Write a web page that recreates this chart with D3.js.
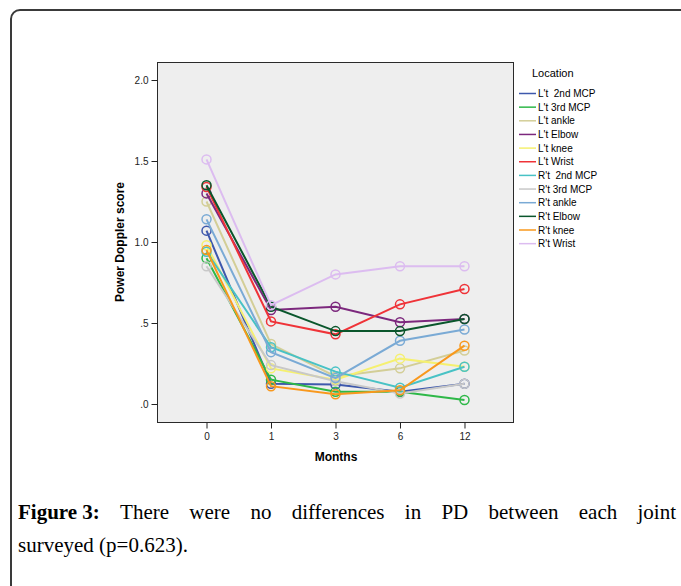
<!DOCTYPE html>
<html>
<head>
<meta charset="utf-8">
<script src="https://cdn.jsdelivr.net/npm/d3@7"></script>
<style>
  body { margin: 0; background: #fff; }
  svg { display: block; }
</style>
</head>
<body>
<div class="graphic"></div>
<script>
// data
const months = ["0", "1", "3", "6", "12"];
const locations = ["L't  2nd MCP", "L't 3rd MCP", "L't ankle", "L't Elbow", "L't knee", "L't Wrist",
                   "R't  2nd MCP", "R't 3rd MCP", "R't ankle", "R't Elbow", "R't knee", "R't Wrist"];
const colors = ["#3e58ac", "#2eb848", "#d3ce97", "#7c287d", "#f5f070", "#ef3338",
                "#48c2c5", "#c8c8c8", "#7aaad5", "#0a562c", "#f8981d", "#dcbcf0"];

const ltMcp2   = [1.07, 0.125, 0.12, 0.075, 0.125];
const ltMcp3   = [0.90, 0.15, 0.075, 0.075, 0.025];
const ltAnkle  = [1.25, 0.37, 0.17, 0.22, 0.33];
const ltElbow  = [1.30, 0.58, 0.60, 0.505, 0.525];
const ltKnee   = [0.98, 0.22, 0.15, 0.28, 0.23];
const ltWrist  = [1.34, 0.51, 0.43, 0.615, 0.71];
const rtMcp2   = [0.94, 0.35, 0.20, 0.10, 0.23];
const rtMcp3   = [0.85, 0.24, 0.14, 0.065, 0.125];
const rtAnkle  = [1.14, 0.32, 0.16, 0.39, 0.46];
const rtElbow  = [1.35, 0.60, 0.45, 0.45, 0.525];
const rtKnee   = [0.95, 0.11, 0.06, 0.085, 0.36];
const rtWrist  = [1.51, 0.61, 0.80, 0.85, 0.85];

const yTicks = [0, 0.5, 1.0, 1.5, 2.0];

const seriesValues = [ltMcp2, ltMcp3, ltAnkle, ltElbow, ltKnee, ltWrist,
                      rtMcp2, rtMcp3, rtAnkle, rtElbow, rtKnee, rtWrist];
const series = locations.map((name, i) => ({
  name: name,
  color: colors[i],
  points: seriesValues[i].map((v, j) => ({ month: months[j], value: v }))
}));

let svg = d3.select(".graphic")
            .append("svg")
            .attr("width", 681)
            .attr("height", 586);

// card border
svg.append("rect")
   .attr("x", 11).attr("y", 10)
   .attr("width", 700).attr("height", 620)
   .attr("rx", 9)
   .attr("fill", "none")
   .attr("stroke", "#3a3a3a")
   .attr("stroke-width", 2);

let frame = { left: 157.5, top: 62.5, right: 513.5, bottom: 422.5 };

let x = d3.scalePoint()
          .domain(months)
          .range([frame.left, frame.right])
          .padding(0.76);
let y = d3.scaleLinear()
          .domain([0, 2])
          .range([404, 80]);

svg.append("rect")
   .attr("x", frame.left).attr("y", frame.top)
   .attr("width", frame.right - frame.left)
   .attr("height", frame.bottom - frame.top)
   .attr("fill", "#eeeeee")
   .attr("stroke", "#2a2a2a")
   .attr("stroke-width", 1);

let yAxis = d3.axisLeft(y)
              .tickValues(yTicks)
              .tickSize(6)
              .tickFormat(d => d3.format(".1f")(d).replace(/^0/, ""));
let gy = svg.append("g")
            .attr("transform", `translate(${frame.left},0)`)
            .call(yAxis);
gy.select(".domain").remove();

let xAxis = d3.axisBottom(x).tickSize(6).tickPadding(4);
let gx = svg.append("g")
            .attr("transform", `translate(0,${frame.bottom})`)
            .call(xAxis);
gx.select(".domain").remove();

svg.selectAll(".tick text")
   .attr("font-family", "Liberation Sans, Arial, sans-serif")
   .attr("font-size", 10)
   .attr("fill", "#222");
svg.selectAll(".tick line").attr("stroke", "#222");

svg.append("text")
   .attr("x", 336).attr("y", 461)
   .attr("text-anchor", "middle")
   .attr("font-family", "Liberation Sans, Arial, sans-serif")
   .attr("font-weight", "bold")
   .attr("font-size", 12)
   .text("Months");

svg.append("text")
   .attr("transform", "translate(124,242) rotate(-90)")
   .attr("text-anchor", "middle")
   .attr("font-family", "Liberation Sans, Arial, sans-serif")
   .attr("font-weight", "bold")
   .attr("font-size", 12)
   .text("Power Doppler score");

// lines and open markers
let line = d3.line()
             .x(d => x(d.month))
             .y(d => y(d.value));

let groups = svg.append("g").selectAll("g")
                .data(series)
                .join("g");
groups.append("path")
      .attr("d", d => line(d.points))
      .attr("fill", "none")
      .attr("stroke", d => d.color)
      .attr("stroke-width", 2);
groups.selectAll("circle")
      .data(d => d.points.map(p => ({ ...p, color: d.color })))
      .join("circle")
      .attr("cx", d => x(d.month))
      .attr("cy", d => y(d.value))
      .attr("r", 4.5)
      .attr("fill", "none")
      .attr("stroke", d => d.color)
      .attr("stroke-width", 1.5);

// legend
let legend = svg.append("g")
                .attr("font-family", "Liberation Sans, Arial, sans-serif")
                .attr("font-size", 10);
legend.append("text")
      .attr("x", 532).attr("y", 77)
      .attr("font-size", 11)
      .text("Location");
let items = legend.selectAll(".item")
                  .data(series)
                  .join("g")
                  .attr("class", "item")
                  .attr("transform", (d, i) => `translate(0,${93.5 + i * 13.65})`);
items.append("line")
     .attr("x1", 519).attr("x2", 536)
     .attr("stroke", d => d.color)
     .attr("stroke-width", 1.5);
items.append("text")
     .attr("x", 538).attr("y", 3.5)
     .attr("xml:space", "preserve")
     .style("white-space", "pre")
     .text(d => d.name);

// caption, first line justified word by word
let capWords = [{ t: "Figure 3:", bold: true }, "There", "were", "no", "differences",
                "in", "PD", "between", "each", "joint"].map(w => typeof w === "string" ? { t: w } : w);
let cap1 = svg.append("text")
              .attr("y", 519)
              .attr("font-family", "Liberation Serif, serif")
              .attr("font-size", 21);
let spans = cap1.selectAll("tspan")
                .data(capWords)
                .join("tspan")
                .attr("font-weight", d => d.bold ? "bold" : null)
                .text(d => d.t);
let widths = spans.nodes().map(n => n.getComputedTextLength());
let total = d3.sum(widths);
let gap = (676 - 18 - total) / (capWords.length - 1);
let cx = 18;
spans.each(function (d, i) {
  d3.select(this).attr("x", cx);
  cx += widths[i] + gap;
});

svg.append("text")
   .attr("x", 18).attr("y", 552)
   .attr("font-family", "Liberation Serif, serif")
   .attr("font-size", 21)
   .text("surveyed (p=0.623).");
</script>
</body>
</html>
